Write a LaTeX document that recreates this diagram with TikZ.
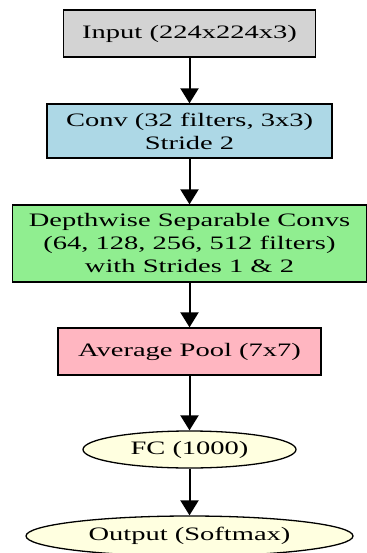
\documentclass[tikz,border=0pt]{standalone}
\usepackage{fontspec}
\setmainfont[FakeStretch=1.5]{Liberation Serif}
\usetikzlibrary{arrows.meta,shapes.geometric}
\definecolor{cgray}{HTML}{D3D3D3}
\definecolor{cblue}{HTML}{ADD8E6}
\definecolor{cgreen}{HTML}{90EE90}
\definecolor{cpink}{HTML}{FFB6C1}
\definecolor{cyellow}{HTML}{FFFFE0}
\tikzset{
  box/.style={draw=black, line width=1.3pt, rectangle, inner sep=0pt, align=center,
    font=\fontsize{19pt}{23pt}\selectfont, text=black},
  oval/.style={draw=black, line width=1.3pt, ellipse, inner sep=0pt, align=center,
    font=\fontsize{19pt}{23pt}\selectfont, text=black},
  flow/.style={line width=2pt, -{Triangle[width=18pt,length=15pt]}},
}
\begin{document}
\begin{tikzpicture}[x=1pt,y=-1pt]
\useasboundingbox (0,0) rectangle (366,553);
\node[box, fill=cgray, minimum width=252pt, minimum height=47pt] (in) at (189.5,33.5) {Input (224x224x3)};
\node[box, fill=cblue, minimum width=285pt, minimum height=54pt] (conv) at (189.5,131) {Conv (32 filters, 3x3)\\Stride 2};
\node[box, fill=cgreen, minimum width=354pt, minimum height=77pt] (dw) at (189.5,243.5) {Depthwise Separable Convs\\(64, 128, 256, 512 filters)\\with Strides 1 \& 2};
\node[box, fill=cpink, minimum width=263pt, minimum height=47pt] (pool) at (189.5,351.5) {Average Pool (7x7)};
\node[oval, fill=cyellow, minimum width=213pt, minimum height=37pt] (fc) at (189.5,449.5) {FC (1000)};
\node[oval, fill=cyellow, minimum width=327pt, minimum height=40pt] (out) at (189.5,536) {Output (Softmax)};
\draw[flow] (in) -- (conv);
\draw[flow] (conv) -- (dw);
\draw[flow] (dw) -- (pool);
\draw[flow] (pool) -- (fc);
\draw[flow] (fc) -- (out);
\end{tikzpicture}
\end{document}
